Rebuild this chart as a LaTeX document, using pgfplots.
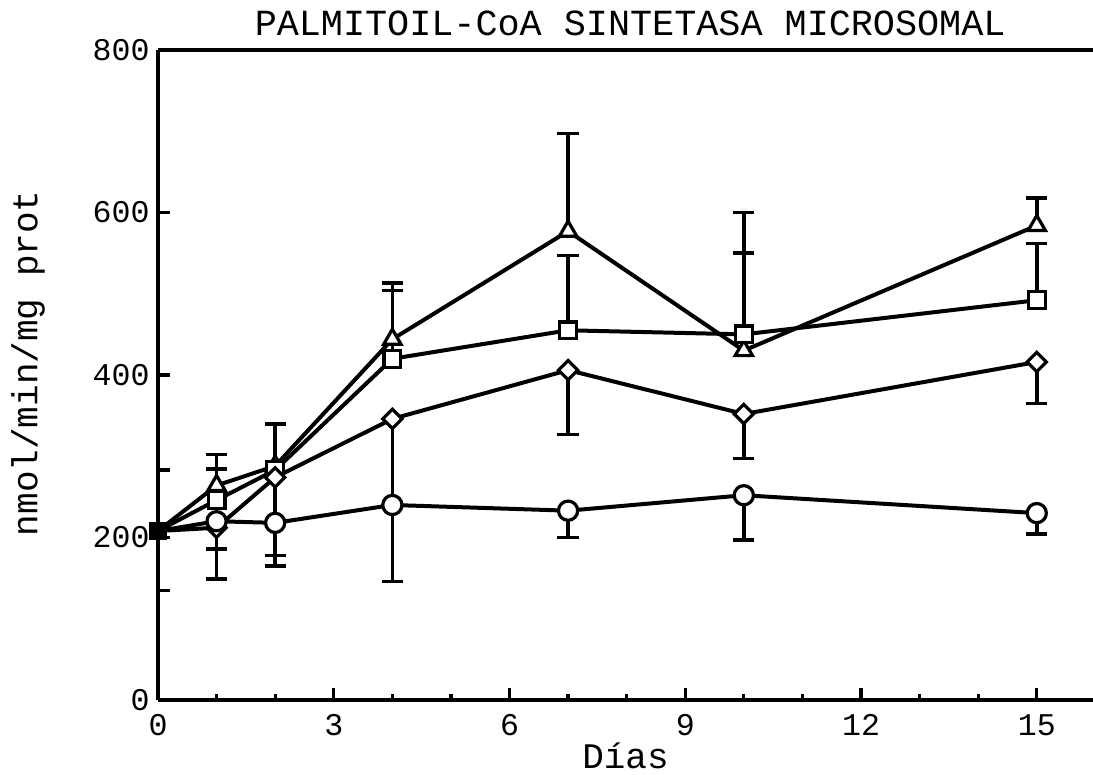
\documentclass[border=0pt]{standalone}
\usepackage{pgfplots}
\pgfplotsset{compat=1.18}
\usepackage{fontspec}
\setmainfont{Liberation Mono}
\begin{document}
\begin{tikzpicture}
\begin{axis}[
  name=ax,
  set layers=standard,
  scale only axis,
  width=467.5pt, height=325pt,
  xmin=0, xmax=15.96, ymin=0, ymax=800,
  axis x line*=box, axis y line*=left,
  xtick pos=left, ytick pos=left,
  xtick={0,3,...,15}, minor xtick={1,2,4,5,7,8,10,11,13,14},
  ytick={0,200,...,800},
  extra y ticks={135,283}, extra y tick labels={},
  tick align=inside,
  major tick length=6pt, minor tick length=3pt,
  tick style={line width=1.6pt, black},
  axis line style={line width=2pt},
  /pgf/number format/assume math mode=true,
  tick label style={font=\fontsize{15.8}{16}\selectfont},
  yticklabel style={inner sep=0pt, xshift=-4pt},
  xticklabel style={inner sep=0pt, yshift=-7pt},
  label style={font=\fontsize{18}{20}\selectfont},
  xlabel={Días},
  xlabel style={at={(axis description cs:0.5,-0.106)}, anchor=base, inner sep=0pt},
  ylabel={nmol/min/mg prot},
  ylabel style={at={(axis description cs:-0.139,0.518)}, anchor=center, inner sep=0pt},
  title={PALMITOIL-CoA SINTETASA MICROSOMAL},
  every axis title shift=0pt,
  title style={at={(axis description cs:0.505,1.022)}, anchor=base, inner sep=0pt, font=\fontsize{18.4}{20}\selectfont},
  every axis plot/.append style={black, line width=2pt},
  errb/.style={draw=none, mark=none,
    error bars/y explicit,
    error bars/error mark=none,
    error bars/error bar style={line width=1.8pt, draw=black}},
  caps/.style={only marks, mark=-, mark size=5.3pt, mark options={line width=1.8pt}},
  ser/.style={mark layer=axis foreground, mark indices={2,3,4,5,6,7}},
]
% error bars (vertical parts)
\addplot[errb, error bars/y dir=plus]
  coordinates {(1,264) +- (0,38) (2,288) +- (0,52) (4,444) +- (0,69) (7,577) +- (0,120) (10,430) +- (0,170) (15,584) +- (0,34)};
\addplot[errb, error bars/y dir=plus]
  coordinates {(1,246) +- (0,38) (4,420) +- (0,84) (7,455) +- (0,92) (10,450) +- (0,100) (15,492) +- (0,70)};
\addplot[errb, error bars/y dir=minus]
  coordinates {(1,212) +- (0,63) (2,274) +- (0,109) (4,346) +- (0,200) (7,406) +- (0,79) (10,352) +- (0,55) (15,416) +- (0,51)};
\addplot[errb, error bars/y dir=minus]
  coordinates {(1,220) +- (0,34) (2,218) +- (0,40) (7,233) +- (0,33) (10,252) +- (0,55) (15,230) +- (0,26)};
% error bar caps (ends of the bars)
\addplot[caps] coordinates {(1,302) (2,340) (4,513) (7,697) (10,600) (15,618)};
\addplot[caps] coordinates {(1,284) (4,504) (7,547) (10,550) (15,562)};
\addplot[caps] coordinates {(1,149) (2,165) (4,146) (7,327) (10,297) (15,365)};
\addplot[caps] coordinates {(1,186) (2,178) (7,200) (10,197) (15,204)};
% lines with marks
\addplot[ser, mark=triangle*, mark size=5pt, mark options={fill=white, draw=black, line width=1.6pt}]
  coordinates {(0,208) (1,264) (2,288) (4,444) (7,577) (10,430) (15,584)};
\addplot[ser, mark=square*, mark size=4.2pt, mark options={fill=white, draw=black, line width=1.6pt}]
  coordinates {(0,208) (1,246) (2,283) (4,420) (7,455) (10,450) (15,492)};
\addplot[ser, mark=square*, mark size=3.4pt, mark options={rotate=45, fill=white, draw=black, line width=1.6pt}]
  coordinates {(0,208) (1,212) (2,274) (4,346) (7,406) (10,352) (15,416)};
\addplot[ser, mark=*, mark size=4.8pt, mark options={fill=white, draw=black, line width=1.6pt}]
  coordinates {(0,208) (1,220) (2,218) (4,240) (7,233) (10,252) (15,230)};
\addplot[only marks, mark layer=axis foreground, mark=square*, mark size=3.5pt] coordinates {(0,208)};
\end{axis}
\pgfresetboundingbox
\path[use as bounding box] ([xshift=-79pt,yshift=-37.5pt]ax.south west) rectangle ([yshift=25pt]ax.north east);
\end{tikzpicture}
\end{document}
